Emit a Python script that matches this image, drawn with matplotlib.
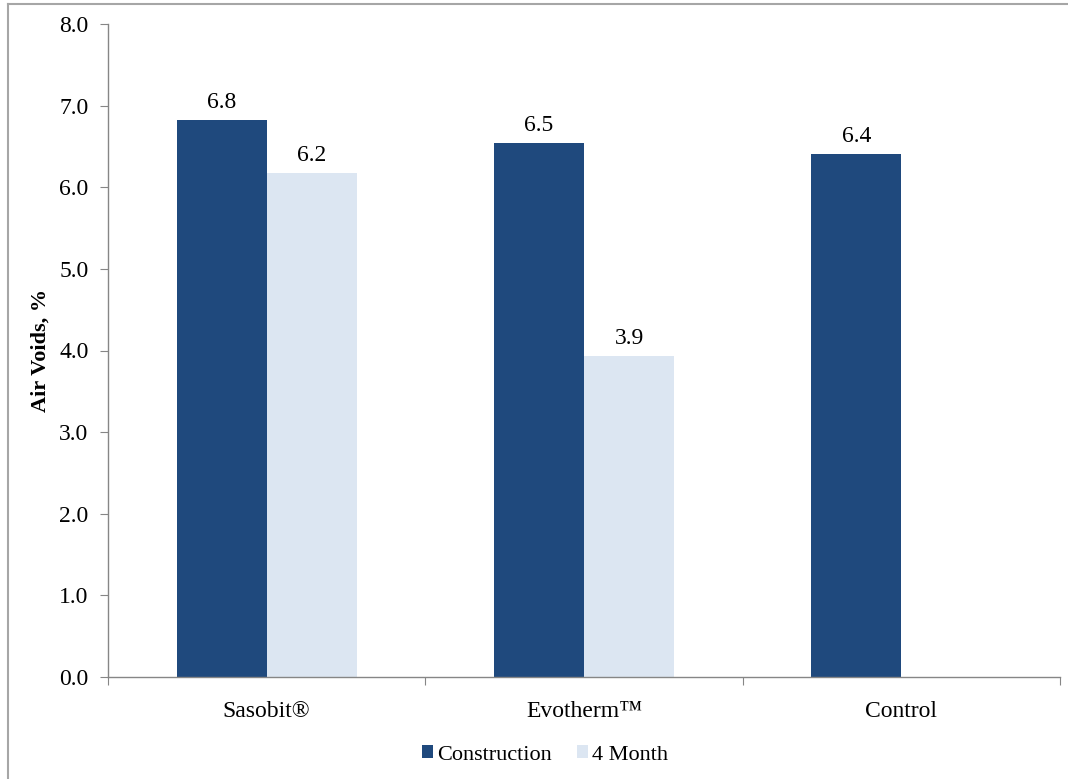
import numpy as np
import matplotlib
matplotlib.use('Agg')
import matplotlib.pyplot as plt
from matplotlib.lines import Line2D

plt.rcParams['font.family'] = ['Liberation Serif', 'DejaVu Serif']

categories = ['Sasobit®', 'Evotherm™', 'Control']
series_names = ['Construction', '4 Month']
construction = [6.82, 6.54, 6.41]
four_month = [6.17, 3.93, np.nan]
colors = ['#1F497D', '#DCE6F2']
y_ticks = [0.0, 1.0, 2.0, 3.0, 4.0, 5.0, 6.0, 7.0, 8.0]

W, H = 1068, 779
fig = plt.figure(figsize=(W / 100, H / 100), dpi=100)
ax = fig.add_axes([108 / W, 1 - 677 / H, (1060 - 108) / W, (677 - 24) / H])

x = np.arange(len(categories))
bw = 0.284
values = [construction, four_month]
for k, (vals, name, c) in enumerate(zip(values, series_names, colors)):
    pos = x + (k - 0.5) * bw
    bars = ax.bar(pos, vals, width=bw, color=c, label=name, zorder=2)
    for b, v in zip(bars, vals):
        if np.isnan(v):
            continue
        ax.annotate(f'{v:.1f}', (b.get_x() + b.get_width() / 2, v),
                    xytext=(0, 5), textcoords='offset points',
                    ha='center', va='bottom', fontsize=17)

ax.set_xlim(-0.5, len(categories) - 0.5)
ax.set_ylim(0, 8)
ax.set_yticks(y_ticks)
ax.set_yticklabels([f'{t:.1f}' for t in y_ticks], fontsize=17)

# category boundary ticks, labels centered
ax.set_xticks(np.arange(-0.5, len(categories)), minor=False)
ax.set_xticklabels([])
ax.set_xticks(x, minor=True)
ax.set_xticklabels(categories, minor=True, fontsize=17)
ax.tick_params(axis='x', which='minor', length=0, pad=17)
ax.tick_params(axis='x', which='major', length=6, color='#868686')
ax.tick_params(axis='y', length=6, color='#868686', pad=8)

for s in ['top', 'right']:
    ax.spines[s].set_visible(False)
for s in ['left', 'bottom']:
    ax.spines[s].set_color('#868686')
    ax.spines[s].set_linewidth(1.0)

ax.set_ylabel('Air Voids, %', fontsize=16, fontweight='bold', labelpad=6)

ax.legend(loc='center', bbox_to_anchor=(545 / W, 1 - 755 / H),
          bbox_transform=fig.transFigure, ncol=2, frameon=False,
          fontsize=16, handlelength=0.5, handleheight=0.5,
          handletextpad=0.2, columnspacing=1.1)

# outer chart frame (only left and top edges visible)
fig.add_artist(Line2D([7.5 / W, 7.5 / W], [0, 1 - 4 / H], transform=fig.transFigure,
                      color='#a6a6a6', linewidth=1.5))
fig.add_artist(Line2D([7.5 / W, 1], [1 - 4 / H, 1 - 4 / H], transform=fig.transFigure,
                      color='#a6a6a6', linewidth=1.5))

fig.savefig('out.png', dpi=100)
